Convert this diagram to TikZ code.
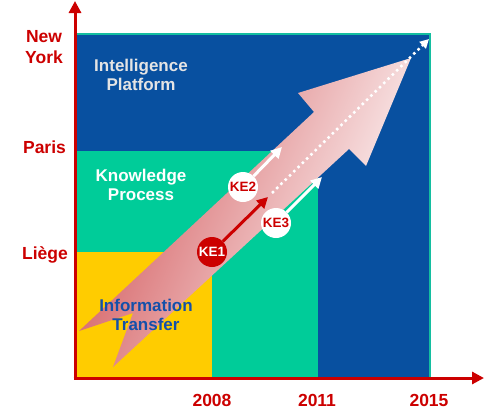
\documentclass[tikz,border=0pt]{standalone}
\usepackage{fontspec}
\setmainfont{Liberation Sans}
\usetikzlibrary{arrows.meta}
\definecolor{axred}{RGB}{204,0,0}
\definecolor{blk}{RGB}{8,80,160}
\definecolor{grn}{RGB}{0,204,153}
\definecolor{ylw}{RGB}{255,204,0}
\definecolor{tealb}{RGB}{20,190,160}
\definecolor{txtblue}{RGB}{20,80,170}
\definecolor{txtgray}{RGB}{228,228,228}
\definecolor{arrdark}{RGB}{210,85,88}
\begin{document}
\begin{tikzpicture}[x=1pt,y=-1pt,
  axisline/.style={draw=axred, line width=3pt, -{Triangle[length=12pt,width=12pt]}},
  axlabel/.style={text=axred, font=\fontsize{17.5}{21}\selectfont\bfseries, anchor=base, inner sep=0pt, align=center},
  blocktext/.style={font=\fontsize{17}{19}\selectfont\bfseries, anchor=base, inner sep=0pt, align=center},
  kebox/.style={circle, minimum size=30pt, inner sep=0pt, font=\fontsize{13.5}{14}\selectfont\bfseries},
  kewhite/.style={kebox, fill=white, text=axred},
  kered/.style={kebox, fill=axred, text=white},
  whitearr/.style={draw=white, line width=3pt, -{Triangle[length=11pt,width=11pt]}},
  redarr/.style={draw=axred, line width=3pt, -{Triangle[length=11pt,width=11pt]}},
  dotarr/.style={draw=white, line width=2.5pt, dash pattern=on 2.5pt off 3.5pt, -{Triangle[length=9pt,width=9pt]}}
]
\useasboundingbox (0,0) rectangle (490,410);
% regions
\fill[blk] (76,34) rectangle (430,378);
\draw[tealb, line width=1.2pt] (76,34) -- (430,34) -- (430,378);
\fill[grn] (76,151) rectangle (318,378);
\fill[ylw] (76,252) rectangle (212,378);
% big arrow
\shade[shading=axis, top color=arrdark, bottom color=white, shading angle=67]
  (79,331) -- (314,112) -- (298,93) -- (411,58) -- (366,166) -- (349,149) -- (113,367) -- (133,313) -- cycle;
% block texts (base = baseline of last line)
\node[blocktext, text=txtgray] (ip) at (141,90) {Intelligence\\Platform};
\node[blocktext, text=white] (kp) at (141,200) {Knowledge\\Process};
\node[blocktext, text=txtblue] (it) at (146,330) {Information\\Transfer};
% KE nodes and arrows
\coordinate (r1) at (268,197);
\coordinate (w2) at (282,147);
\coordinate (w3) at (322,177);
\coordinate (d0) at (272,193);
\coordinate (d1) at (429,39);
\draw[dotarr] (d0) -- (d1);
\node[kered] (ke1) at (212,252) {KE1};
\node[kewhite] (ke2) at (243,187) {KE2};
\node[kewhite] (ke3) at (276,223) {KE3};
\draw[redarr] (ke1) -- (r1);
\draw[whitearr] (ke2) -- (w2);
\draw[whitearr] (ke3) -- (w3);
% axes
\coordinate (o) at (75,378);
\coordinate (ytop) at (75,1);
\coordinate (xend) at (484,378);
\draw[axisline] (75,379.5) -- (ytop);
\draw[axisline] (73.5,378) -- (xend);
% axis labels
\node[axlabel] (ny) at (44,63) {New\\York};
\node[axlabel] (pa) at (44.5,153) {Paris};
\node[axlabel] (li) at (45,259) {Liège};
\node[axlabel] (y08) at (212,406) {2008};
\node[axlabel] (y11) at (317,406) {2011};
\node[axlabel] (y15) at (429,406) {2015};
\end{tikzpicture}
\end{document}
